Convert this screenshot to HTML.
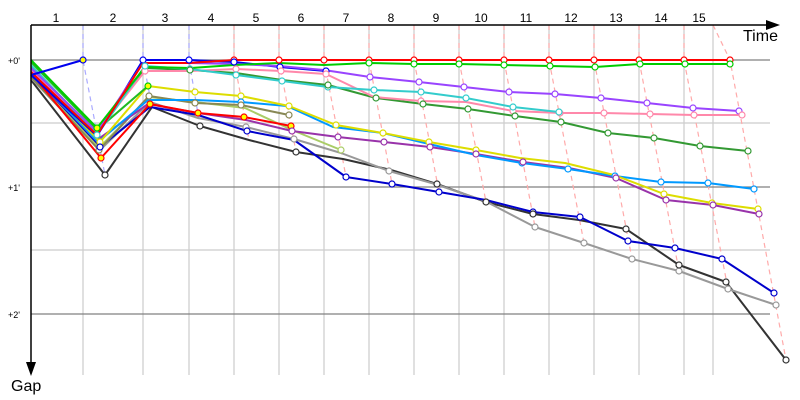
<!DOCTYPE html>
<html><head><meta charset="utf-8"><style>
html,body{margin:0;padding:0;background:#fff;}
svg{display:block;font-family:"Liberation Sans","DejaVu Sans",sans-serif;}
</style></head><body>
<svg width="800" height="400" viewBox="0 0 800 400" xmlns="http://www.w3.org/2000/svg">
<g stroke="#cccccc" stroke-width="1.2">
<line x1="83" y1="25" x2="83" y2="375"/><line x1="143" y1="25" x2="143" y2="375"/><line x1="189" y1="25" x2="189" y2="375"/>
<line x1="234" y1="25" x2="234" y2="375"/><line x1="279" y1="25" x2="279" y2="375"/><line x1="324" y1="25" x2="324" y2="375"/>
<line x1="369" y1="25" x2="369" y2="375"/><line x1="414" y1="25" x2="414" y2="375"/><line x1="459" y1="25" x2="459" y2="375"/>
<line x1="504" y1="25" x2="504" y2="375"/><line x1="549" y1="25" x2="549" y2="375"/><line x1="594" y1="25" x2="594" y2="375"/>
<line x1="639" y1="25" x2="639" y2="375"/><line x1="684" y1="25" x2="684" y2="375"/><line x1="713" y1="25" x2="713" y2="375"/>
<line x1="31" y1="123" x2="770" y2="123"/><line x1="31" y1="250" x2="770" y2="250"/>
</g>
<g stroke="#808080" stroke-width="1.2">
<line x1="31" y1="60" x2="770" y2="60"/><line x1="31" y1="187" x2="770" y2="187"/><line x1="31" y1="314" x2="770" y2="314"/>
</g>
<g stroke="#aaaaff" stroke-width="1.2" stroke-dasharray="5,4" fill="none">
<polyline points="83,25 83,60 105,175"/><polyline points="143,25 143,60 152,107"/><polyline points="189,25 189,60 200,126"/>
</g>
<g stroke="#ffaaaa" stroke-width="1.2" stroke-dasharray="5,4" fill="none">
<polyline points="234,25 234,60 249,140"/><polyline points="279,25 279,60 296,152"/><polyline points="324,25 324,60 346,177"/>
<polyline points="369,25 369,60 392,184"/><polyline points="414,25 414,60 439,192"/><polyline points="459,25 459,60 486,202"/>
<polyline points="504,25 504,60 535,227"/><polyline points="549,25 549,60 584,243"/><polyline points="594,25 594,60 632,259"/>
<polyline points="639,25 639,60 679,271"/><polyline points="684,25 684,60 728,289"/><polyline points="713,25 730,60 786,360"/>
</g>
<g fill="none" stroke-width="2" stroke-linejoin="round">
<polyline stroke="#333333" points="31,80 105,175 152,107 200,126 249,140 296,152 343,159 391,170 437,184 486,202 533,214 579,220 626,229 679,265 726,282 786,360"/>
<polyline stroke="#999999" points="31,78 100,150 150,102 198,118 246,127 294,139 341,153 389,171 435,184 485,201 535,227 584,243 632,259 679,271 728,289 776,305"/>
<polyline stroke="#0000cc" points="31,75 100,147 150,107 198,115 247,131 294,140 346,177 392,184 439,192 486,200 533,212 580,217 628,241 675,248 722,259 774,293"/>
<polyline stroke="#aacc66" points="31,76 99,148 149,97 195,102 245,108 292,130 341,150"/>
<polyline stroke="#888855" points="31,77 99,150 149,96 195,103 241,105 289,115"/>
<polyline stroke="#9933aa" points="31,74 97,140 148,104 198,113 246,120 292,131 338,137 384,142 430,147 476,154 523,162 569,168 616,178 666,200 713,205 759,214"/>
<polyline stroke="#ff0000" points="31,73 101,158 150,104 198,113 244,117 291,126"/>
<polyline stroke="#0099ff" points="31,72 98,142 148,100 195,100 241,102 287,106 333,127 383,133 429,144 476,155 522,163 568,169 615,176 661,182 708,183 754,189"/>
<polyline stroke="#dddd00" points="31,70 100,142 148,86 195,92 241,96 289,106 336,125 383,133 429,142 476,150 520,158 565,163 614,175 664,194 712,203 758,209"/>
<polyline stroke="#22bb22" points="31,62 97,130 148,86"/>
<polyline stroke="#339933" points="31,66 97,134 145,68 190,70 236,73 282,80 328,85 376,98 423,104 468,109 515,116 561,122 608,133 654,138 700,146 748,151"/>
<polyline stroke="#ff88aa" points="31,70 97,132 145,71 190,71 236,69 281,71 326,74 374,97 421,101 466,102 513,111 560,113 604,113 650,114 694,115 742,115"/>
<polyline stroke="#33cccc" points="31,65 97,135 145,66 190,69 236,75 282,81 328,87 374,90 421,92 466,98 513,107 559,112"/>
<polyline stroke="#0000ee" points="31,75 97,136 143,60 189,60 234,62 280,67 326,71"/>
<polyline stroke="#9944ff" points="31,68 97,132 143,63 189,63 234,64 279,66 324,70 370,77 419,82 464,87 509,92 555,94 601,98 647,103 693,108 739,111"/>
<polyline stroke="#00cc00" points="31,60 97,128 145,67 191,68 234,65 279,63 324,65 369,63 414,64 459,64 504,65 550,66 595,67 640,64 685,64 730,64"/>
<polyline stroke="#ff0000" points="31,72 97,135 143,63 189,63 234,60 279,60 324,60 369,60 414,60 459,60 504,60 549,60 594,60 639,60 684,60 730,60"/>
<polyline stroke="#0000ee" points="31,75 83,60"/>
</g>
<g fill="#fff" stroke-width="1.2">
<g stroke="#ff0000"><circle cx="234" cy="60" r="3"/><circle cx="279" cy="60" r="3"/><circle cx="324" cy="60" r="3"/><circle cx="369" cy="60" r="3"/><circle cx="414" cy="60" r="3"/><circle cx="459" cy="60" r="3"/><circle cx="504" cy="60" r="3"/><circle cx="549" cy="60" r="3"/><circle cx="594" cy="60" r="3"/><circle cx="639" cy="60" r="3"/><circle cx="684" cy="60" r="3"/><circle cx="730" cy="60" r="3"/><circle cx="198" cy="113" r="3" fill="#ff0"/><circle cx="244" cy="117" r="3" fill="#ff0"/><circle cx="291" cy="126" r="3" fill="#ff0"/><circle cx="150" cy="104" r="3" fill="#ff0"/><circle cx="101" cy="158" r="3" fill="#ff0"/></g>
<g stroke="#00cc00"><circle cx="369" cy="63" r="3"/><circle cx="414" cy="64" r="3"/><circle cx="459" cy="64" r="3"/><circle cx="504" cy="65" r="3"/><circle cx="550" cy="66" r="3"/><circle cx="595" cy="67" r="3"/><circle cx="640" cy="64" r="3"/><circle cx="685" cy="64" r="3"/><circle cx="730" cy="64" r="3"/><circle cx="148" cy="86" r="3" fill="#ff0"/><circle cx="97" cy="128" r="3" fill="#ff0"/></g>
<g stroke="#9944ff"><circle cx="419" cy="82" r="3"/><circle cx="464" cy="87" r="3"/><circle cx="509" cy="92" r="3"/><circle cx="555" cy="94" r="3"/><circle cx="601" cy="98" r="3"/><circle cx="647" cy="103" r="3"/><circle cx="693" cy="108" r="3"/><circle cx="739" cy="111" r="3"/><circle cx="370" cy="77" r="3"/></g>
<g stroke="#0000ee"><circle cx="83" cy="60" r="3" fill="#ff0"/><circle cx="143" cy="60" r="3"/><circle cx="189" cy="60" r="3"/><circle cx="234" cy="62" r="3"/><circle cx="280" cy="67" r="3"/><circle cx="326" cy="71" r="3"/></g>
<g stroke="#ff88aa"><circle cx="145" cy="71" r="3"/><circle cx="236" cy="69" r="3"/><circle cx="281" cy="71" r="3"/><circle cx="326" cy="74" r="3"/><circle cx="421" cy="101" r="3"/><circle cx="513" cy="111" r="3"/><circle cx="560" cy="113" r="3"/><circle cx="604" cy="113" r="3"/><circle cx="650" cy="114" r="3"/><circle cx="694" cy="115" r="3"/><circle cx="742" cy="115" r="3"/></g>
<g stroke="#33cccc"><circle cx="145" cy="66" r="3"/><circle cx="190" cy="69" r="3"/><circle cx="236" cy="75" r="3"/><circle cx="282" cy="81" r="3"/><circle cx="328" cy="87" r="3"/><circle cx="374" cy="90" r="3"/><circle cx="421" cy="92" r="3"/><circle cx="466" cy="98" r="3"/><circle cx="513" cy="107" r="3"/><circle cx="559" cy="112" r="3"/><circle cx="97" cy="135" r="3"/></g>
<g stroke="#339933"><circle cx="190" cy="70" r="3"/><circle cx="328" cy="85" r="3"/><circle cx="376" cy="98" r="3"/><circle cx="423" cy="104" r="3"/><circle cx="468" cy="109" r="3"/><circle cx="515" cy="116" r="3"/><circle cx="561" cy="122" r="3"/><circle cx="608" cy="133" r="3"/><circle cx="654" cy="138" r="3"/><circle cx="700" cy="146" r="3"/><circle cx="748" cy="151" r="3"/></g>
<g stroke="#dddd00"><circle cx="100" cy="142" r="3"/><circle cx="195" cy="92" r="3"/><circle cx="241" cy="96" r="3"/><circle cx="289" cy="106" r="3"/><circle cx="336" cy="125" r="3"/><circle cx="383" cy="133" r="3"/><circle cx="429" cy="142" r="3"/><circle cx="476" cy="150" r="3"/><circle cx="664" cy="194" r="3"/><circle cx="712" cy="203" r="3"/><circle cx="758" cy="209" r="3"/></g>
<g stroke="#0099ff"><circle cx="241" cy="102" r="3"/><circle cx="522" cy="163" r="3"/><circle cx="568" cy="169" r="3"/><circle cx="615" cy="176" r="3"/><circle cx="661" cy="182" r="3"/><circle cx="708" cy="183" r="3"/><circle cx="754" cy="189" r="3"/></g>
<g stroke="#9933aa"><circle cx="292" cy="131" r="3"/><circle cx="338" cy="137" r="3"/><circle cx="384" cy="142" r="3"/><circle cx="430" cy="147" r="3"/><circle cx="476" cy="154" r="3"/><circle cx="523" cy="162" r="3"/><circle cx="616" cy="178" r="3"/><circle cx="666" cy="200" r="3"/><circle cx="713" cy="205" r="3"/><circle cx="759" cy="214" r="3"/></g>
<g stroke="#888855"><circle cx="149" cy="96" r="3"/><circle cx="195" cy="103" r="3"/><circle cx="241" cy="105" r="3"/><circle cx="289" cy="115" r="3"/><circle cx="99" cy="150" r="3"/></g>
<g stroke="#aacc66"><circle cx="341" cy="150" r="3"/></g>
<g stroke="#999999"><circle cx="246" cy="127" r="3"/><circle cx="294" cy="139" r="3"/><circle cx="389" cy="171" r="3"/><circle cx="535" cy="227" r="3"/><circle cx="584" cy="243" r="3"/><circle cx="632" cy="259" r="3"/><circle cx="679" cy="271" r="3"/><circle cx="728" cy="289" r="3"/><circle cx="776" cy="305" r="3"/></g>
<g stroke="#0000cc"><circle cx="100" cy="147" r="3"/><circle cx="247" cy="131" r="3"/><circle cx="346" cy="177" r="3"/><circle cx="392" cy="184" r="3"/><circle cx="439" cy="192" r="3"/><circle cx="533" cy="212" r="3"/><circle cx="580" cy="217" r="3"/><circle cx="628" cy="241" r="3"/><circle cx="675" cy="248" r="3"/><circle cx="722" cy="259" r="3"/><circle cx="774" cy="293" r="3"/></g>
<g stroke="#333333"><circle cx="105" cy="175" r="3"/><circle cx="200" cy="126" r="3"/><circle cx="296" cy="152" r="3"/><circle cx="437" cy="184" r="3"/><circle cx="486" cy="202" r="3"/><circle cx="533" cy="214" r="3"/><circle cx="626" cy="229" r="3"/><circle cx="679" cy="265" r="3"/><circle cx="726" cy="282" r="3"/><circle cx="786" cy="360" r="3"/></g>
</g>
<g stroke="#000" stroke-width="1.5">
<line x1="31" y1="25" x2="772" y2="25"/><line x1="31" y1="25" x2="31" y2="368"/>
</g>
<polygon points="780,25 766,20 766,30" fill="#000"/>
<polygon points="31,376 26,362 36,362" fill="#000"/>
<g font-size="12" fill="#000" text-anchor="middle">
<text x="56" y="22">1</text><text x="113" y="22">2</text><text x="165" y="22">3</text><text x="211" y="22">4</text><text x="256" y="22">5</text><text x="301" y="22">6</text><text x="346" y="22">7</text><text x="391" y="22">8</text><text x="436" y="22">9</text><text x="481" y="22">10</text><text x="526" y="22">11</text><text x="571" y="22">12</text><text x="616" y="22">13</text><text x="661" y="22">14</text><text x="699" y="22">15</text>
</g>
<text x="743" y="41" font-size="16">Time</text>
<text x="11" y="391" font-size="16">Gap</text>
<g font-size="9">
<text x="8" y="64">+0'</text><text x="8" y="191">+1'</text><text x="8" y="318">+2'</text>
</g>
</svg>
</body></html>
